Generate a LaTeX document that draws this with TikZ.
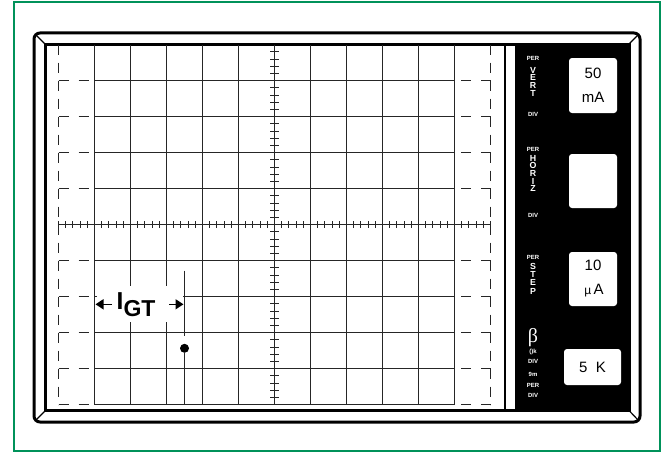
\documentclass[tikz,border=0pt]{standalone}
\usepackage{fontspec}
\setmainfont{Liberation Sans}
\newfontfamily\serifgreek{Liberation Serif}
\usetikzlibrary{arrows.meta}
\definecolor{egreen}{RGB}{0,146,90}
\begin{document}
\begin{tikzpicture}[x=1pt,y=-1pt,
  gridline/.style={line width=1.1pt,black!85},
  tickline/.style={line width=0.9pt,black!85},
  biglet/.style={inner sep=0,text=white,font=\fontsize{8.8}{8.8}\selectfont\bfseries},
  smalllet/.style={inner sep=0,text=white,font=\fontsize{6}{6}\selectfont\bfseries},
  valbox/.style={fill=white,rounded corners=3pt,inner sep=0,align=center,font=\fontsize{15}{24}\selectfont},
  arr/.style={line width=1.5pt,-{Triangle[length=8pt,width=10pt]}}]
\useasboundingbox (0,0) rectangle (663,452);
\fill[white] (0,0) rectangle (663,452);
\draw[egreen,line width=2pt] (13.5,2.5) rectangle (660,450.5);
% bezel
\draw[line width=3pt,rounded corners=6pt] (34,33) rectangle (640,422);
\draw[line width=1.2pt] (35.5,34.5) -- (45.5,44.5);
\draw[line width=1.2pt] (638.5,34.5) -- (629,44);
\draw[line width=1.2pt] (35.5,420.5) -- (45.5,410.5);
\draw[line width=1.2pt] (638.5,420.5) -- (629,410.5);
\fill[black] (515,44) rectangle (630,411);
\draw[line width=2.5pt] (45.5,44.5) rectangle (630,410.5);
\draw[line width=2.5pt] (505,44.5) -- (505,410.5);
% grid
\foreach \i in {0,...,10} \draw[gridline] ({94.5+36*\i},44.7) -- ({94.5+36*\i},404.7);
\foreach \j in {1,...,10} {
  \draw[gridline] (94.5,{44.7+36*\j}) -- (454.5,{44.7+36*\j});
  \draw[gridline,dash pattern=on 10pt off 10pt] (58.5,{44.7+36*\j}) -- (94.5,{44.7+36*\j});
  \draw[gridline,dash pattern=on 10pt off 10pt] (490.5,{44.7+36*\j}) -- (454.5,{44.7+36*\j});
}
\draw[gridline,dash pattern=on 10pt off 8pt] (58.5,44.7) -- (58.5,404.7);
\draw[gridline,dash pattern=on 10pt off 8pt] (490.5,44.7) -- (490.5,404.7);
% center tick lines
\draw[gridline] (58.5,224.7) -- (490.5,224.7);
\foreach \k in {0,...,60} \draw[tickline] ({58.5+7.2*\k},221.2) -- ({58.5+7.2*\k},228.2);
\foreach \k in {1,...,49} \draw[tickline] (270,{44.7+7.2*\k}) -- (279,{44.7+7.2*\k});
% I_GT annotation
\fill[white] (96.5,286) rectangle (182.5,322);
\coordinate (la) at (112,304.3);
\coordinate (lt) at (95.5,304.3);
\coordinate (ra) at (169,304.3);
\coordinate (rt) at (183.5,304.3);
\draw[arr] (la) -- (lt);
\draw[arr] (ra) -- (rt);
\node[anchor=base west,inner sep=0,font=\bfseries] (igt) at (116.5,309.3)
  {\fontsize{24.5}{24.5}\selectfont I\raisebox{-7.4pt}{\fontsize{23}{23}\selectfont GT}};
\coordinate (vt) at (184.5,270.7);
\coordinate (vb) at (184.5,336);
\coordinate (db) at (184.5,404.7);
\node[circle,fill=black,inner sep=0,minimum size=9pt] (dot) at (184.5,348.3) {};
\draw[gridline] (vt) -- (vb);
\draw[gridline] (dot) -- (db);
% panel labels
\node[smalllet] (p1) at (533,58.7) {PER};
\node[biglet] (v1) at (533,70) {V};
\node[biglet] (v2) at (533,77.8) {E};
\node[biglet] (v3) at (533,85.6) {R};
\node[biglet] (v4) at (533,93.4) {T};
\node[smalllet] (d1) at (533,114) {DIV};
\node[smalllet] (p2) at (533,149) {PER};
\node[biglet] (h1) at (533,158) {H};
\node[biglet] (h2) at (533,165.7) {O};
\node[biglet] (h3) at (533,173.4) {R};
\node[biglet] (h4) at (533,181) {I};
\node[biglet] (h5) at (533,188.7) {Z};
\node[smalllet] (d2) at (533,215.5) {DIV};
\node[smalllet] (p3) at (533,257) {PER};
\node[biglet] (s1) at (533,266) {S};
\node[biglet] (s2) at (533,274.3) {T};
\node[biglet] (s3) at (533,282.6) {E};
\node[biglet] (s4) at (533,291) {P};
\node[inner sep=0,text=white,font=\serifgreek\fontsize{20}{20}\selectfont] (beta) at (533,338) {β};
\node[smalllet] (b1) at (533,352) {()k};
\node[smalllet] (b2) at (533,361) {DIV};
\node[smalllet] (b3) at (533,374) {9m};
\node[smalllet] (b4) at (533,385.3) {PER};
\node[smalllet] (b5) at (533,395.5) {DIV};
% value boxes
\node[valbox,minimum width=48pt,minimum height=55pt] (vert) at (593,85.5) {50\\mA};
\node[valbox,minimum width=48pt,minimum height=54pt] (horiz) at (593,181) {};
\node[valbox,minimum width=48pt,minimum height=54pt] (step) at (593,279) {10\\\hspace*{2pt}{\fontsize{12}{12}\selectfont µ}\,A};
\node[valbox,minimum width=57pt,minimum height=36pt] (kdiv) at (592.5,367) {5\ \ K};
\end{tikzpicture}
\end{document}
